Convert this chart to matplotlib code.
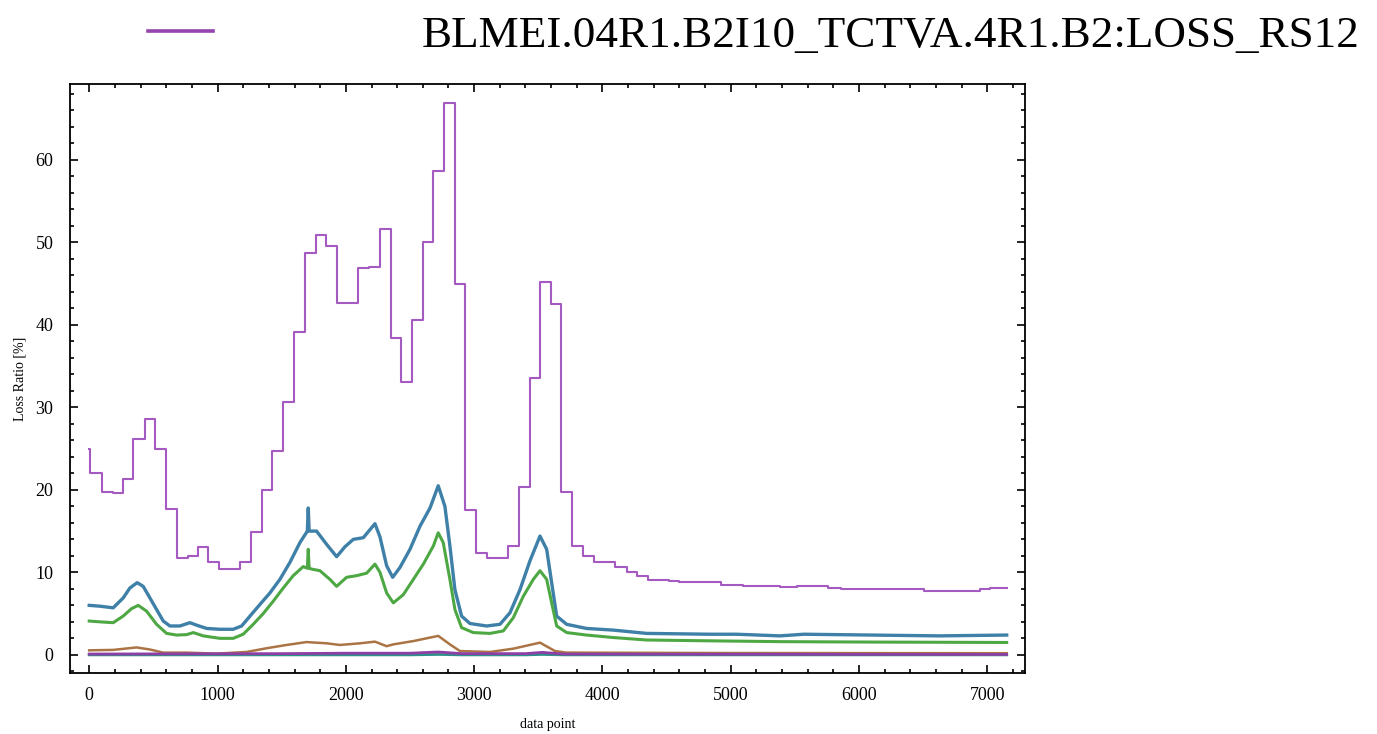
import matplotlib
matplotlib.use('Agg')
from matplotlib import pyplot as plt
from matplotlib.ticker import MultipleLocator

plt.rcParams['font.family'] = ['Liberation Serif', 'DejaVu Serif']

# step series (the BLM loss ratio), bin edges and values
step_edges = [0, 8, 97, 187, 260, 343, 434, 512, 598, 681, 767, 845, 928, 1013, 1175, 1260,
	1344, 1426, 1507, 1598, 1681, 1765, 1845, 1928, 2092, 2182, 2266, 2349, 2430, 2513, 2599,
	2677, 2765, 2848, 2931, 3014, 3097, 3261, 3346, 3433, 3512, 3602, 3680, 3762, 3846, 3931,
	4097, 4189, 4267, 4352, 4518, 4597, 4926, 5097, 5387, 5518, 5755, 5860, 6506, 6940, 7020, 7150]
step_values = [24.9, 22.0, 19.8, 19.6, 21.3, 26.2, 28.6, 24.9, 17.7, 11.8, 12.0, 13.1, 11.2, 10.4,
	11.3, 14.9, 20.0, 24.7, 30.7, 39.1, 48.7, 50.9, 49.5, 42.6, 46.9, 47.0, 51.6, 38.4, 33.1,
	40.6, 50.0, 58.7, 66.9, 45.0, 17.5, 12.3, 11.7, 13.2, 20.4, 33.5, 45.2, 42.5, 19.7, 13.2,
	12.0, 11.3, 10.7, 10.0, 9.5, 9.1, 8.9, 8.8, 8.5, 8.3, 8.2, 8.4, 8.1, 7.96, 7.8, 7.96, 8.1]

blue_x = [0, 83, 187, 265, 317, 374, 421, 473, 525, 577, 629, 707, 785, 837, 915, 1019, 1122,
	1188, 1253, 1330, 1408, 1486, 1564, 1642, 1700, 1707, 1714, 1772, 1850, 1928, 1993, 2058,
	2136, 2227, 2266, 2318, 2365, 2422, 2500, 2578, 2656, 2720, 2772, 2811, 2850, 2902, 2967,
	3097, 3201, 3279, 3357, 3435, 3513, 3565, 3604, 3643, 3721, 3876, 4084, 4344, 4838, 5045,
	5383, 5570, 6097, 6623, 7150]
blue_y = [6.0, 5.9, 5.7, 6.9, 8.1, 8.75, 8.3, 6.9, 5.5, 4.1, 3.5, 3.5, 3.9, 3.6, 3.2, 3.1, 3.1,
	3.5, 4.7, 6.1, 7.5, 9.15, 11.2, 13.6, 15.0, 17.8, 15.0, 15.0, 13.4, 11.9, 13.1, 14.0,
	14.2, 15.9, 14.3, 10.8, 9.4, 10.6, 12.8, 15.6, 17.8, 20.5, 18.0, 13.2, 7.9, 4.7, 3.8,
	3.5, 3.7, 5.1, 7.9, 11.4, 14.4, 12.8, 8.75, 4.7, 3.7, 3.2, 3.0, 2.6, 2.5, 2.5,
	2.3, 2.5, 2.4, 2.3, 2.4]

green_x = [0, 83, 187, 265, 330, 382, 447, 525, 603, 681, 759, 811, 889, 1019, 1122, 1200,
	1278, 1356, 1434, 1512, 1590, 1668, 1700, 1707, 1714, 1733, 1798, 1876, 1928, 2006, 2084,
	2162, 2227, 2266, 2318, 2370, 2448, 2526, 2604, 2682, 2720, 2759, 2811, 2850, 2902, 2993,
	3123, 3227, 3305, 3383, 3461, 3513, 3565, 3604, 3643, 3721, 3876, 4084, 4344, 4838, 5400,
	6100, 7150]
green_y = [4.1, 4.0, 3.9, 4.7, 5.6, 6.0, 5.3, 3.7, 2.6, 2.4, 2.45, 2.7, 2.3, 2.0, 2.0, 2.5,
	3.7, 5.0, 6.5, 8.1, 9.6, 10.7, 10.5, 12.8, 10.5, 10.4, 10.2, 9.15, 8.3, 9.4, 9.6,
	9.9, 11.0, 10.0, 7.5, 6.3, 7.3, 9.15, 11.0, 13.2, 14.8, 13.6, 9.15, 5.5, 3.3, 2.7,
	2.6, 2.9, 4.5, 7.1, 9.15, 10.2, 9.15, 6.3, 3.5, 2.7, 2.4, 2.1, 1.8, 1.7, 1.6,
	1.55, 1.5]

brown_x = [0, 187, 369, 473, 577, 759, 993, 1226, 1382, 1538, 1694, 1850, 1954, 2110, 2227,
	2318, 2370, 2526, 2720, 2811, 2889, 3123, 3305, 3513, 3630, 3721, 5000, 7150]
brown_y = [0.55, 0.6, 0.9, 0.65, 0.27, 0.27, 0.15, 0.35, 0.8, 1.2, 1.55, 1.4, 1.2, 1.4, 1.6,
	1.05, 1.27, 1.67, 2.3, 1.27, 0.46, 0.35, 0.75, 1.48, 0.46, 0.27, 0.22, 0.2]

low_x = [0, 1500, 2000, 2500, 2720, 2900, 3400, 3530, 3700, 7150]
low_purple_y = [0.1, 0.15, 0.2, 0.2, 0.35, 0.15, 0.15, 0.3, 0.1, 0.05]
low_teal_y = [0.0, 0.0, 0.0, 0.0, 0.05, 0.0, 0.0, 0.05, 0.0, 0.0]

legend_label = "BLMEI.04R1.B2I10_TCTVA.4R1.B2:LOSS_RS12"


fig, ax = plt.subplots(figsize=(13.77, 7.34), dpi=100)
fig.subplots_adjust(left=0.0508, right=0.7444, bottom=0.0831, top=0.8856)

step_line, = ax.step(step_edges, step_values + [step_values[-1]], where='post',
	color='#a55ac2', lw=1.5)
ax.plot(blue_x, blue_y, color='#3e80a7', lw=2.4)
ax.plot(green_x, green_y, color='#4da843', lw=2.2)
ax.plot(brown_x, brown_y, color='#ab7444', lw=1.8)
ax.plot(low_x, low_teal_y, color='#2f8f8a', lw=2.0)
ax.plot(low_x, low_purple_y, color='#8e3fa6', lw=2.0)

ax.set_xlim(-150, 7293)
ax.set_ylim(-2.2, 69.2)
ax.xaxis.set_major_locator(MultipleLocator(1000))
ax.xaxis.set_minor_locator(MultipleLocator(200))
ax.yaxis.set_major_locator(MultipleLocator(10))
ax.yaxis.set_minor_locator(MultipleLocator(2))
ax.tick_params(which='both', direction='in', top=True, right=True, width=1.2, labelsize=13)
ax.tick_params(which='major', length=6)
ax.tick_params(which='minor', length=3)
ax.tick_params(axis='x', pad=10)
ax.tick_params(axis='y', pad=12)
for spine in ax.spines.values():
	spine.set_linewidth(1.3)

ax.set_xlabel('data point', fontsize=10, labelpad=10)
ax.set_ylabel('Loss Ratio [%]', fontsize=10, labelpad=6)

leg = fig.legend([step_line], [legend_label], loc='upper left', bbox_to_anchor=(148 / 1377, 1 - 15 / 734),
	frameon=False, fontsize=32.5, handlelength=1.44, handletextpad=4.63, borderpad=0, borderaxespad=0)
leg.legend_handles[0].set_linewidth(2.6)
leg.legend_handles[0].set_color('#9544ad')

fig.savefig('out.png', dpi=100)
